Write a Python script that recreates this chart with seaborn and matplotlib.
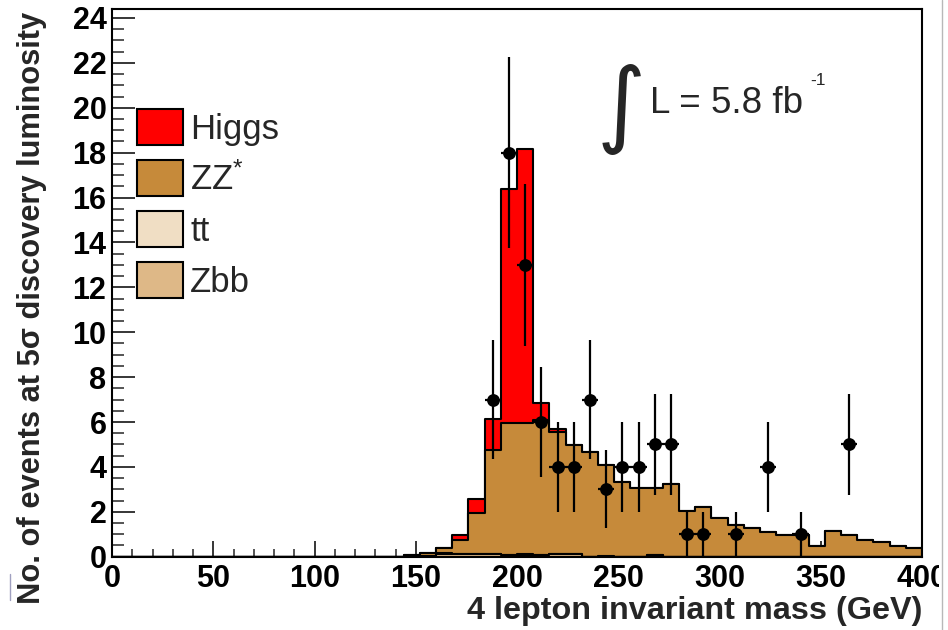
import numpy as np
import pandas as pd
import matplotlib
matplotlib.use("Agg")
import matplotlib.pyplot as plt
import seaborn as sns
from matplotlib.patches import Patch, Rectangle
from matplotlib.lines import Line2D
from matplotlib.ticker import MultipleLocator

sns.set_theme(style="ticks")
plt.rcParams["font.family"] = ["Liberation Sans", "DejaVu Sans"]
plt.rcParams["mathtext.fontset"] = "custom"
plt.rcParams["mathtext.rm"] = "Liberation Sans"
plt.rcParams["mathtext.it"] = "Liberation Sans:italic"
plt.rcParams["mathtext.bf"] = "Liberation Sans:bold"

# ---- histogram content (8 GeV bins, labelled by lower edge) ----
bin_width = 8
bin_edges = list(range(0, 400 + bin_width, bin_width))

mass_low = [144, 152, 160, 168, 176, 184, 192, 200, 208, 216, 224, 232, 240, 248, 256, 264,
            272, 280, 288, 296, 304, 312, 320, 328, 336, 344, 352, 360, 368, 376, 384, 392]
higgs = [0.00, 0.00, 0.00, 0.23, 0.62, 1.40, 10.43, 12.18, 0.75, 0.15, 0.00, 0.00, 0.00, 0.00, 0.00, 0.00,
         0.00, 0.00, 0.00, 0.00, 0.00, 0.00, 0.00, 0.00, 0.00, 0.00, 0.00, 0.00, 0.00, 0.00, 0.00, 0.00]
zz = [0.07, 0.11, 0.24, 0.61, 1.81, 4.62, 5.89, 5.86, 6.02, 5.43, 4.84, 4.66, 4.08, 3.32, 3.05, 2.99,
      3.24, 2.05, 2.20, 1.73, 1.43, 1.28, 1.09, 0.98, 0.98, 0.49, 1.16, 0.98, 0.74, 0.64, 0.49, 0.39]
ttbar = [0.00, 0.00, 0.06, 0.04, 0.04, 0.03, 0.02, 0.03, 0.02, 0.02, 0.02, 0.00, 0.02, 0.00, 0.00, 0.00,
         0.00, 0.00, 0.00, 0.00, 0.00, 0.00, 0.00, 0.00, 0.00, 0.00, 0.00, 0.00, 0.00, 0.00, 0.00, 0.00]
zbb = [0.00, 0.04, 0.10, 0.10, 0.10, 0.10, 0.06, 0.08, 0.06, 0.10, 0.10, 0.00, 0.00, 0.00, 0.00, 0.08,
       0.00, 0.00, 0.00, 0.00, 0.00, 0.00, 0.00, 0.00, 0.00, 0.00, 0.00, 0.00, 0.00, 0.00, 0.00, 0.00]

# ---- pseudo-data ----
data_mass = [188, 196, 204, 212, 220, 228, 236, 244, 252, 260, 268, 276, 284, 292, 308, 324, 340, 364]
data_counts = [7, 18, 13, 6, 4, 4, 7, 3, 4, 4, 5, 5, 1, 1, 1, 4, 1, 5]

x_ticks = [0, 50, 100, 150, 200, 250, 300, 350, 400]
y_ticks = [0, 2, 4, 6, 8, 10, 12, 14, 16, 18, 20, 22, 24]

labels = ["Higgs", "ZZ$^{*}$", "tt", "Zbb"]
colors = ["#ff0000", "#c68a3a", "#f0dec4", "#deb887"]

# cumulative layers, drawn from the top one down so each covers the next
centers = np.array(mass_low, dtype=float) + bin_width / 2
cum_zbb = np.array(zbb)
cum_tt = cum_zbb + np.array(ttbar)
cum_zz = cum_tt + np.array(zz)
cum_higgs = cum_zz + np.array(higgs)
layers = [cum_higgs, cum_zz, cum_tt, cum_zbb]

fig = plt.figure(figsize=(9.48, 6.30), dpi=100)
ax = fig.add_axes([112 / 948, 1 - 556.7 / 630, 810 / 948, 547.7 / 630])
ax.set_facecolor("white")

for w, color in zip(layers, colors):
    sns.histplot(x=centers, weights=w, bins=bin_edges, element="step",
                 fill=True, color=color, alpha=1, edgecolor="black", linewidth=1.5, ax=ax)

# data points with Poisson errors
dd = pd.DataFrame({"mass": data_mass, "n": data_counts})
ax.errorbar(dd["mass"], dd["n"], yerr=np.sqrt(dd["n"]), xerr=bin_width / 2,
            fmt="none", ecolor="black", elinewidth=1.6, capsize=0, zorder=5)
sns.scatterplot(data=dd, x="mass", y="n", color="black", s=85, edgecolor="black",
                linewidth=0, zorder=6, ax=ax)

ax.set_xlim(0, 400)
ax.set_ylim(0, 24.4)
ax.set_xticks(x_ticks)
ax.set_xticklabels([str(t) for t in x_ticks], fontweight="bold", fontsize=22)
ax.set_yticks(y_ticks)
ax.set_yticklabels([str(t) for t in y_ticks], fontweight="bold", fontsize=22)
ax.xaxis.set_minor_locator(MultipleLocator(10))
ax.yaxis.set_minor_locator(MultipleLocator(0.5))
ax.tick_params(axis="y", which="major", direction="in", length=16.5, width=1.1, pad=4, colors="black")
ax.tick_params(axis="y", which="minor", direction="in", length=8.6, width=1.1)
ax.tick_params(axis="x", which="major", direction="in", length=11.5, width=1.1, pad=5.5, colors="black")
ax.tick_params(axis="x", which="minor", direction="in", length=5.8, width=1.1)
ax.tick_params(top=False, right=False, which="both")
for s in ax.spines.values():
    s.set_color("black")
    s.set_linewidth(1.5)

ax.set_xlabel("4 lepton invariant mass (GeV)", fontsize=23.3, fontweight="bold", ha="right")
ax.xaxis.set_label_coords(1.0, -0.071)
ax.set_ylabel("No. of events at 5\u03c3 discovery luminosity", fontsize=22.2, fontweight="bold")
ax.yaxis.set_label_coords(-0.080, 0.454)

handles = [Patch(facecolor=c, edgecolor="black", linewidth=1.5) for c in colors]
ax.legend(handles, labels, loc="upper left", bbox_to_anchor=(0.031, 0.8174), frameon=False,
          fontsize=25, handlelength=1.31, handleheight=1.2, handletextpad=0.22,
          labelspacing=0.42, borderpad=0, borderaxespad=0)

ax.text(0.6285, 0.818, "\u222b", transform=ax.transAxes, fontsize=68, family="DejaVu Sans",
        ha="center", va="center")
ax.text(0.664, 0.810, "L = 5.8 fb", transform=ax.transAxes,
        fontsize=26.5, ha="left", va="baseline")
ax.text(0.862, 0.861, "-1", transform=ax.transAxes,
        fontsize=12.5, ha="left", va="baseline")

# page edge on the right: blank strip and thin grey border
fig.add_artist(Rectangle((939 / 948, 0), 9 / 948, 1, transform=fig.transFigure,
                         facecolor="white", edgecolor="none", zorder=20))
fig.add_artist(Line2D([941.5 / 948, 941.5 / 948], [0, 1], color="#b8b8b8", lw=1, zorder=21))
fig.add_artist(Line2D([10 / 948, 10 / 948], [1 - 600 / 630, 1 - 574 / 630], color="#a0a0c0", lw=1))

fig.savefig("out.png", dpi=100, facecolor="white")
